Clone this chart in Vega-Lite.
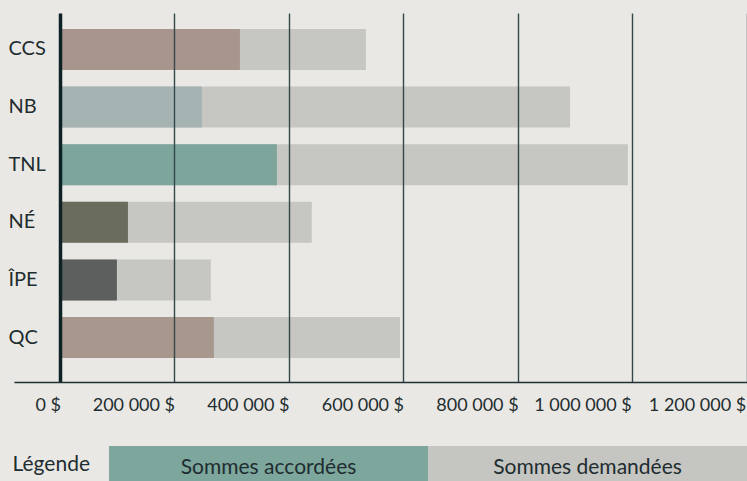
{
  "$schema": "https://vega.github.io/schema/vega-lite/v6.json",
  "background": "#eae8e4",
  "padding": {"left": 8, "top": 13, "right": 0, "bottom": 0},
  "autosize": {"type": "pad"},
  "config": {"view": {"stroke": null}, "font": "Lato", "concat": {"spacing": 32}},
  "resolve": {"scale": {"color": "independent"}},
  "vconcat": [
    {
      "width": 733,
      "height": 369,
      "data": {"values": [
        {"region": "CCS", "demandees": 534500, "accordees": 314500},
        {"region": "NB", "demandees": 891000, "accordees": 248000},
        {"region": "TNL", "demandees": 992000, "accordees": 379000},
        {"region": "NÉ", "demandees": 440000, "accordees": 119000},
        {"region": "ÎPE", "demandees": 263700, "accordees": 99600},
        {"region": "QC", "demandees": 594000, "accordees": 269000}
      ]},
      "encoding": {
        "y": {
          "field": "region", "type": "nominal", "sort": null,
          "scale": {"paddingInner": 0.288, "paddingOuter": 0.347, "align": 0.4},
          "axis": {"title": null, "domain": false, "ticks": false, "tickSize": 0, "grid": false,
                   "labelAlign": "left", "labelPadding": 6, "labelFontSize": 20, "labelColor": "#1e2d30", "labelFont": "Lato"}
        }
      },
      "layer": [
        {
          "mark": {"type": "bar", "color": "#c6c6c3"},
          "encoding": {
            "x": {
              "field": "demandees", "type": "quantitative",
              "scale": {"domain": [-80000, 1200000], "nice": false, "zero": false},
              "axis": {
                "title": null,
                "values": [0, 200000, 400000, 600000, 800000, 1000000, 1200000],
                "labelExpr": "replace(format(datum.value, ',d'), /,/g, ' ') + ' $'",
                "grid": true,
                "gridColor": {"condition": {"test": "datum.value == 0", "value": "#0e2226"}, "value": "#34484b"},
                "gridWidth": {"condition": {"test": "datum.value == 0", "value": 3.5}, "value": 1.4},
                "gridOpacity": 1,
                "zindex": 1,
                "domain": true, "domainColor": "#1f3033", "domainWidth": 1.5,
                "ticks": false, "tickSize": 0,
                "labelFontSize": 18, "labelColor": "#1e2d30", "labelFont": "Lato",
                "labelPadding": 14, "labelFlush": false, "labelOverlap": false,
                "labelOffset": {"condition": [
                  {"test": "datum.value == 0", "value": -12},
                  {"test": "datum.value >= 1000000", "value": -50}
                ], "value": -41}
              }
            },
            "x2": {"datum": 0}
          }
        },
        {
          "mark": {"type": "bar"},
          "encoding": {
            "x": {"field": "accordees", "type": "quantitative"},
            "x2": {"datum": 0},
            "color": {
              "field": "region", "type": "nominal",
              "scale": {"domain": ["CCS", "NB", "TNL", "NÉ", "ÎPE", "QC"],
                        "range": ["#a8958e", "#a5b3b2", "#7da59b", "#6a6d5b", "#5d5f5f", "#a8978c"]},
              "legend": null
            }
          }
        }
      ]
    },
    {
      "width": 733,
      "height": 37,
      "data": {"values": [
        {"serie": "Sommes accordées", "titre": "Légende"},
        {"serie": "Sommes demandées", "titre": "Légende"}
      ]},
      "encoding": {
        "x": {"field": "serie", "type": "nominal", "sort": null,
              "scale": {"paddingInner": 0, "paddingOuter": 0.149, "align": 1}, "axis": null},
        "y": {"field": "titre", "type": "nominal",
              "scale": {"paddingInner": 0, "paddingOuter": 0},
              "axis": {"title": null, "domain": false, "ticks": false, "tickSize": 0, "grid": false,
                       "labelAlign": "left", "labelPadding": 2, "labelFontSize": 21, "labelColor": "#1e2d30", "labelFont": "Lato"}}
      },
      "layer": [
        {
          "mark": {"type": "bar"},
          "encoding": {
            "color": {"field": "serie", "type": "nominal",
                      "scale": {"domain": ["Sommes accordées", "Sommes demandées"], "range": ["#7da69c", "#c5c5c2"]},
                      "legend": null}
          }
        },
        {
          "mark": {"type": "text", "fontSize": 21, "color": "#1e2d30", "font": "Lato", "dy": 3},
          "encoding": {"text": {"field": "serie"}}
        }
      ]
    }
  ]
}
